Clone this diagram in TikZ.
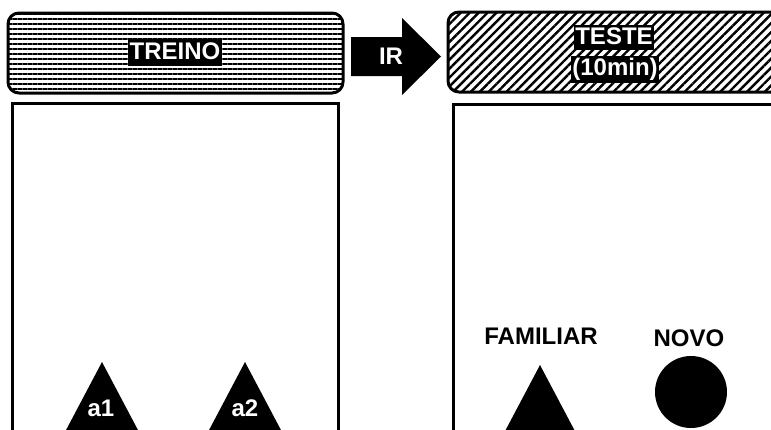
\documentclass[tikz,border=0pt]{standalone}
\usepackage{fontspec}
\setmainfont{Liberation Sans}
\usetikzlibrary{patterns.meta}
\tikzset{
  lbl/.style={fill=black, text=white, font=\bfseries\fontsize{24}{28}\selectfont,
    inner xsep=2pt, inner ysep=3pt, text height=17pt, text depth=4pt},
  caption/.style={font=\bfseries\fontsize{24}{28}\selectfont, inner sep=0pt},
  frame/.style={line width=3pt}
}
\begin{document}
\begin{tikzpicture}[x=1pt,y=-1pt]
\useasboundingbox (0,0) rectangle (771,429);
\clip (0,0) rectangle (771,429);
% headers
\draw[frame, rounded corners=11pt, pattern={Lines[angle=0,distance=5pt,line width=1.6pt]}] (8,13) rectangle (343,93);
\draw[frame, rounded corners=11pt, pattern={Lines[angle=45,distance=6.3pt,line width=2.4pt]}] (448,12) rectangle (790,92);
\node[lbl] (treino) at (175,52.5) {TREINO};
\node[lbl, inner ysep=2pt, inner xsep=1pt] (teste) at (614,37.5) {TESTE};
\node[lbl, inner xsep=1pt] (tempo) at (615,69) {(10min)};
% arrow
\fill (351,37) -- (402,37) -- (402,18) -- (441,56.5) -- (402,95) -- (402,76) -- (351,76) -- cycle;
\node[caption, text=white] (ir) at (391,56.5) {IR};
% boxes
\draw[frame] (12,103) rectangle (338,460);
\draw[frame] (453,104) rectangle (800,460);
% objects
\fill (102,362) -- (139,432) -- (65,432) -- cycle;
\fill (245,362) -- (282,432) -- (208,432) -- cycle;
\node[caption, text=white] (a1) at (101,408) {a1};
\node[caption, text=white] (a2) at (245,408) {a2};
\node[caption] (fam) at (541,336) {FAMILIAR};
\node[caption] (novo) at (689,338) {NOVO};
\fill (540,365) -- (577,435) -- (503,435) -- cycle;
\fill (691,392) circle (36);
\end{tikzpicture}
\end{document}
